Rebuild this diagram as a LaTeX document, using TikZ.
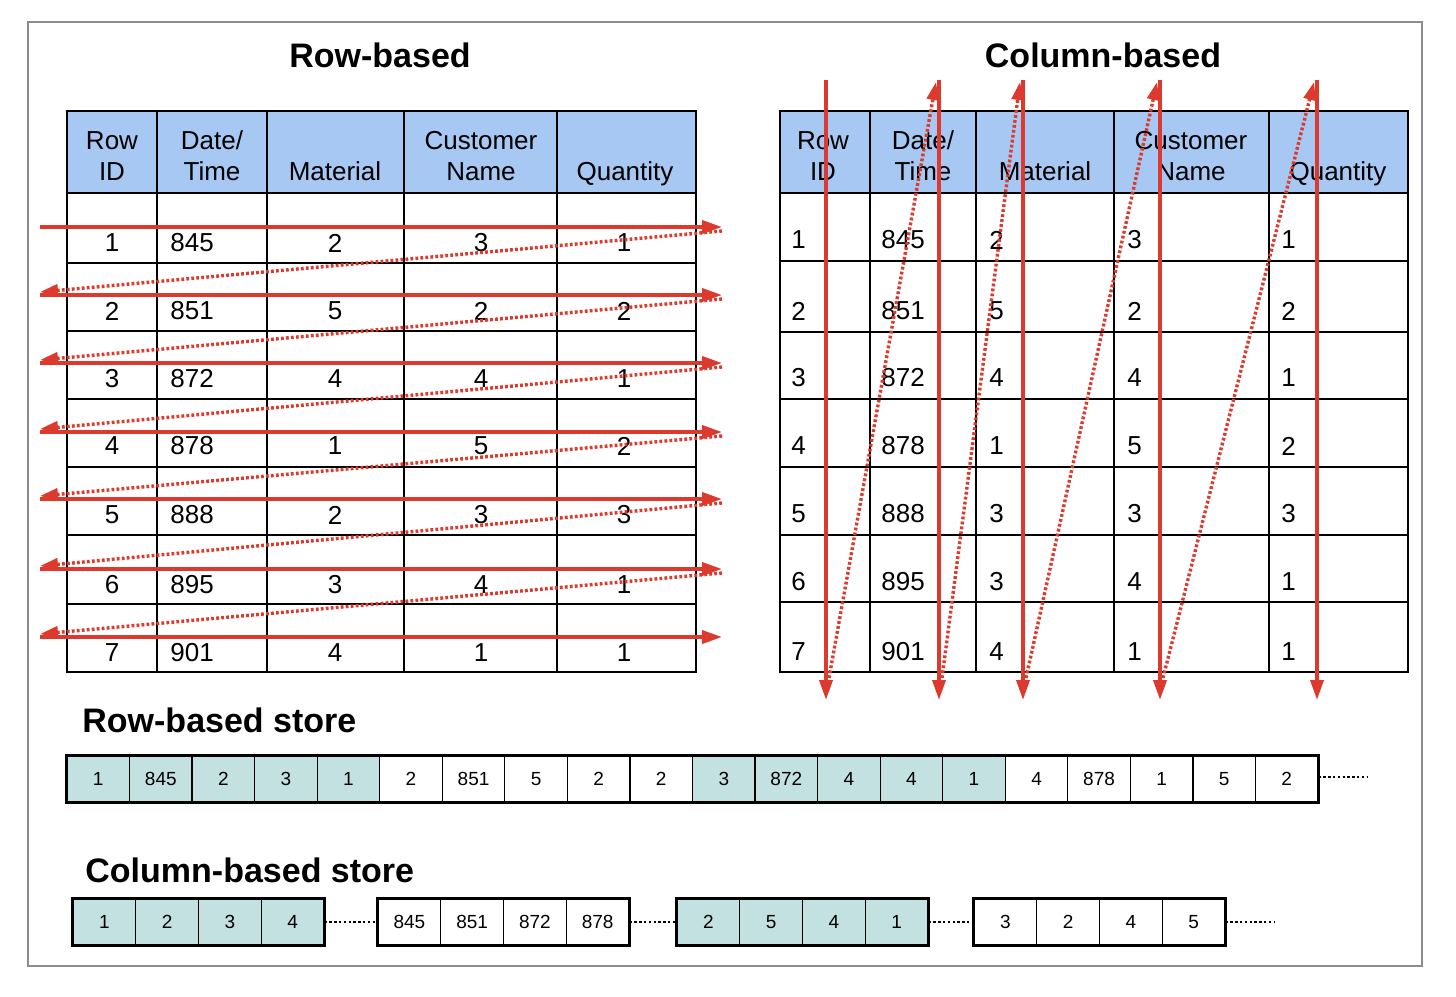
\documentclass[tikz,border=0pt]{standalone}
\usepackage{fontspec}
\setmainfont{Liberation Sans}
\usetikzlibrary{arrows.meta}
\definecolor{hdrblue}{HTML}{A6C8F2}
\definecolor{storeteal}{HTML}{C4E1E1}
\definecolor{arr}{HTML}{DC3A2E}
\begin{document}
\begin{tikzpicture}[x=0.5pt,y=-0.5pt,
  tnum/.style={font=\fontsize{13}{15}\selectfont, inner sep=0pt},
  thead/.style={font=\fontsize{13}{15}\selectfont, inner sep=0pt, anchor=base},
  ttl/.style={font=\fontsize{17}{20}\selectfont\bfseries, inner sep=0pt},
  gridline/.style={line width=0.75pt, black},
  sarrow/.style={draw=arr, line width=1.8pt, -{Triangle[length=10pt,width=6.5pt]}},
  darrow/.style={draw=arr, line width=1.7pt, dash pattern=on 1.4pt off 1.1pt, -{Triangle[length=9pt,width=6pt]}},
  scell/.style={draw=black, line width=0.6pt, minimum height=23pt, inner sep=0pt, font=\fontsize{9.5}{10}\selectfont},
  kdots/.style={draw=black, line width=0.8pt, dash pattern=on 1.2pt off 1.2pt},
]
\useasboundingbox (0,0) rectangle (1456,996);
\fill[white] (0,0) rectangle (1456,996);
\draw[black!45, line width=0.7pt] (28,22) rectangle (1422,966);

% titles
\node[ttl] (t1) at (380,55) {Row-based};
\node[ttl] (t2) at (1103,55) {Column-based};
\node[ttl, anchor=west] (t3) at (82,720) {Row-based store};
\node[ttl, anchor=west] (t4) at (85,870) {Column-based store};

% ---------- left table ----------
\fill[hdrblue] (67,111) rectangle (696,193);
\foreach \x in {157,267,404,557} \draw[gridline] (\x,111) -- (\x,672);
\foreach \y in {193,263,331,399,467,535,604} \draw[gridline] (67,\y) -- (696,\y);
\draw[line width=1pt] (67,111) rectangle (696,672);
\node[thead] (lh1a) at (112,149) {Row};
\node[thead] (lh1b) at (112,180) {ID};
\node[thead] (lh2a) at (212,149) {Date/};
\node[thead] (lh2b) at (212,180) {Time};
\node[thead] (lh3) at (335,180) {Material};
\node[thead] (lh4a) at (481,149) {Customer};
\node[thead] (lh4b) at (481,180) {Name};
\node[thead] (lh5) at (625,180) {Quantity};
\foreach \yy/\a/\b/\c/\d/\e [count=\i] in {243/1/845/2/3/1, 311/2/851/5/2/2, 379/3/872/4/4/1, 446/4/878/1/5/2, 515/5/888/2/3/3, 585/6/895/3/4/1, 653/7/901/4/1/1} {
  \node[tnum] (L\i-1) at (112,\yy) {\a};
  \node[tnum, anchor=west] (L\i-2) at (170,\yy) {\b};
  \node[tnum] (L\i-3) at (335,\yy) {\c};
  \node[tnum] (L\i-4) at (481,\yy) {\d};
  \node[tnum] (L\i-5) at (624,\yy) {\e};
}

% ---------- right table ----------
\fill[hdrblue] (780,111) rectangle (1408,193);
\foreach \x in {870,976,1114,1269} \draw[gridline] (\x,111) -- (\x,672);
\foreach \y in {193,261,332,399,467,535,602} \draw[gridline] (780,\y) -- (1408,\y);
\draw[line width=1pt] (780,111) rectangle (1408,672);
\node[thead] (rh1a) at (823,149) {Row};
\node[thead] (rh1b) at (823,180) {ID};
\node[thead] (rh2a) at (923,149) {Date/};
\node[thead] (rh2b) at (923,180) {Time};
\node[thead] (rh3) at (1045,180) {Material};
\node[thead] (rh4a) at (1191,149) {Customer};
\node[thead] (rh4b) at (1191,180) {Name};
\node[thead] (rh5) at (1338,180) {Quantity};
\foreach \yy/\a/\b/\c/\d/\e [count=\i] in {240/1/845/2/3/1, 311/2/851/5/2/2, 378/3/872/4/4/1, 446/4/878/1/5/2, 514/5/888/3/3/3, 582/6/895/3/4/1, 652/7/901/4/1/1} {
  \node[tnum, anchor=west] (R\i-1) at (791,\yy) {\a};
  \node[tnum, anchor=west] (R\i-2) at (881,\yy) {\b};
  \node[tnum, anchor=west] (R\i-3) at (989,\yy) {\c};
  \node[tnum, anchor=west] (R\i-4) at (1127,\yy) {\d};
  \node[tnum, anchor=west] (R\i-5) at (1281,\yy) {\e};
}

% ---------- red arrows, left ----------
\foreach \y [count=\i] in {227,295,363,432,499,569,637} {
  \coordinate (ls\i) at (40,\y);
  \coordinate (le\i) at (722,\y);
  \coordinate (dl\i) at (40,\y-3);
  \coordinate (dr\i) at (722,\y+4);
}
\foreach \i in {1,...,7} \draw[sarrow] (ls\i) -- (le\i);
\foreach \i [evaluate=\i as \j using int(\i+1)] in {1,...,6} \draw[darrow] (dr\i) -- (dl\j);

% ---------- red arrows, right ----------
\foreach \x [count=\i] in {826,939,1023,1160,1317} {
  \coordinate (vt\i) at (\x,80);
  \coordinate (vb\i) at (\x,700);
  \coordinate (db\i) at (\x+3,678);
  \coordinate (dt\i) at (\x-3,82);
}
\foreach \i in {1,...,5} \draw[sarrow] (vt\i) -- (vb\i);
\foreach \i [evaluate=\i as \j using int(\i+1)] in {1,...,4} \draw[darrow] (db\i) -- (dt\j);

% ---------- row-based store ----------
\foreach \v [count=\i] in {1,845,2,3,1,2,851,5,2,2,3,872,4,4,1,4,878,1,5,2} {
  \pgfmathtruncatemacro\g{mod(int((\i-1)/5),2)}
  \ifnum\g=0 \def\fc{storeteal}\else\def\fc{white}\fi
  \node[scell, fill=\fc, minimum width=31.28pt] (S\i) at ({67+62.55*(\i-0.5)},779) {\v};
}
\draw[line width=1.8pt] (S1.north west) rectangle (S20.south east);
\coordinate (send) at (1368,777);
\draw[kdots] (S20.east |- send) -- (send);

% ---------- column-based store ----------
\foreach \gx/\vals/\fc/\gn in {73/{1,2,3,4}/storeteal/A, 378/{845,851,872,878}/white/B, 677/{2,5,4,1}/storeteal/C, 974/{3,2,4,5}/white/D} {
  \foreach \v [count=\j] in \vals {
    \node[scell, fill=\fc, minimum width=31.38pt] (C\gn\j) at ({\gx+62.75*(\j-0.5)},922) {\v};
  }
  \draw[line width=1.8pt] (C\gn1.north west) rectangle (C\gn4.south east);
}
\draw[kdots] (CA4.east) -- (CB1.west);
\draw[kdots] (CB4.east) -- (CC1.west);
\draw[kdots] (CC4.east) -- (CD1.west);
\coordinate (cend) at (1275,922);
\draw[kdots] (CD4.east) -- (cend);
\end{tikzpicture}
\end{document}
